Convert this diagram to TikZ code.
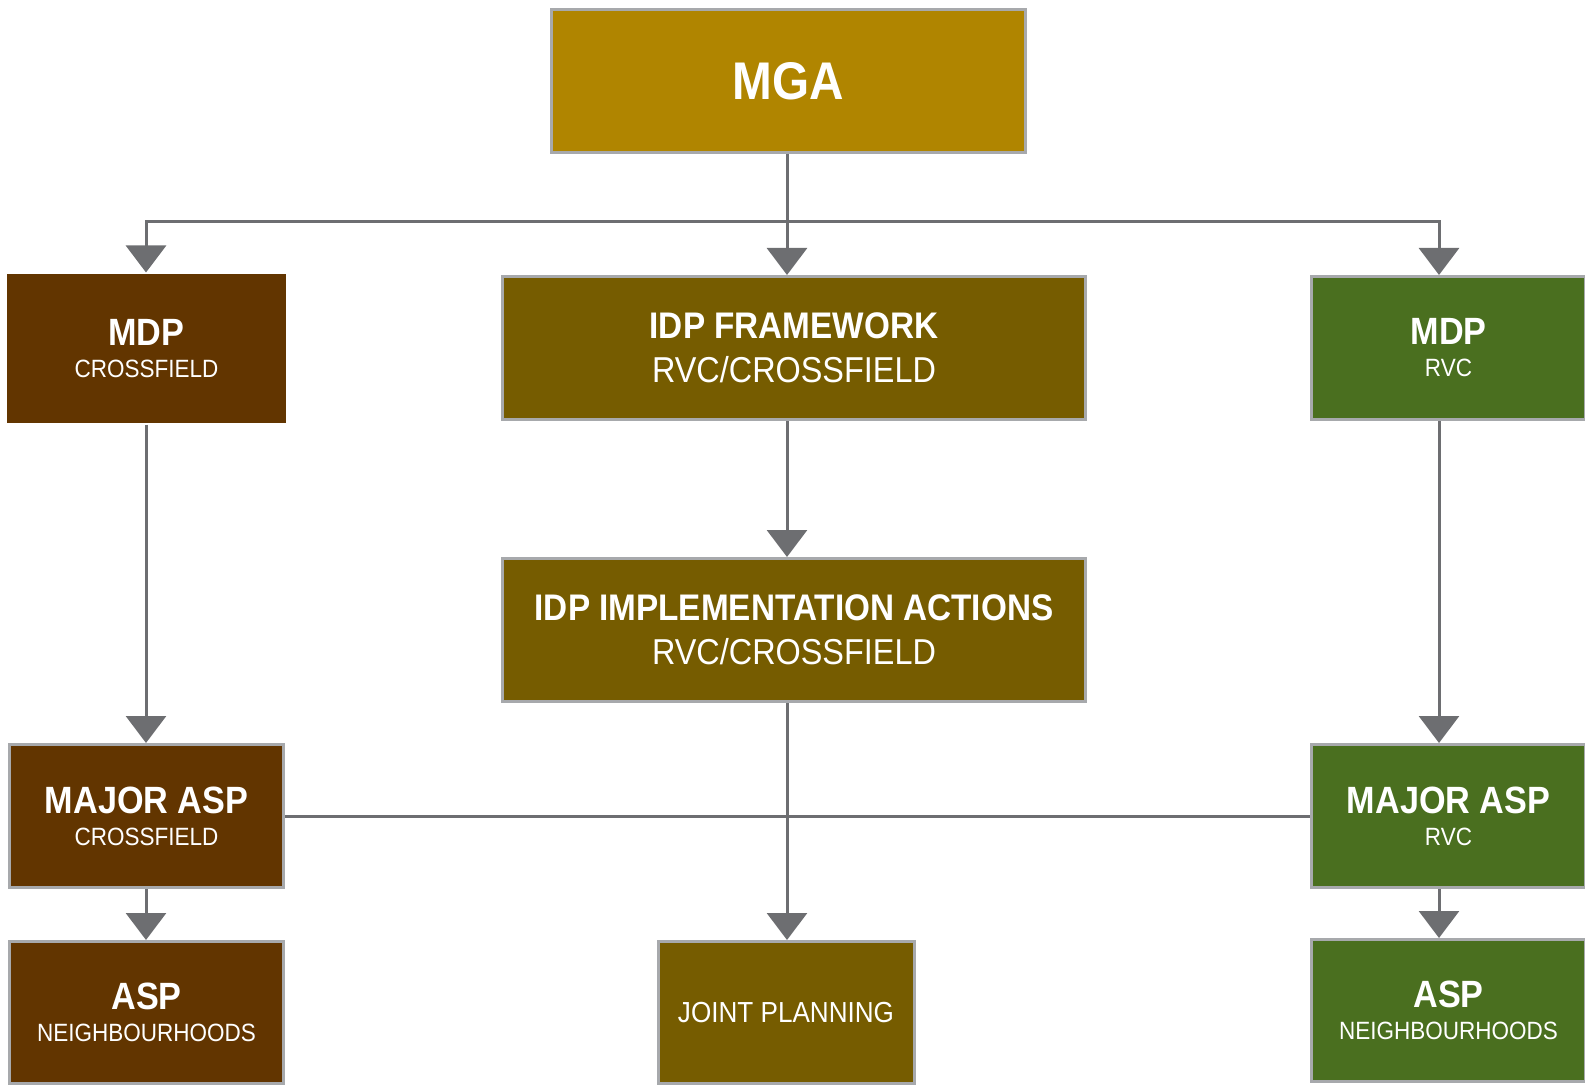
\documentclass[tikz,border=0pt]{standalone}
\usepackage{fontspec}
\setmainfont{Liberation Sans}[FakeStretch=0.9]
\usepackage{tikz}
\usepackage{xcolor}
\usetikzlibrary{positioning, arrows.meta}

\definecolor{mgagold}{HTML}{B08500}
\definecolor{cfbrown}{HTML}{623500}
\definecolor{idpolive}{HTML}{765C00}
\definecolor{rvcgreen}{HTML}{4A6F1F}
\definecolor{boxgray}{HTML}{A7A9AC}
\definecolor{linegray}{HTML}{6D6E71}

\newcommand{\boxttl}{\fontsize{38}{32}\selectfont\bfseries}
\newcommand{\boxbig}{\fontsize{36}{44}\selectfont}

\tikzset{
  box/.style={rectangle, draw=boxgray, line width=3pt, text=white, align=center, inner sep=0pt, minimum width=274pt, minimum height=143pt, font=\fontsize{25}{32}\selectfont},
  wide/.style={box, minimum width=583pt, font=\boxbig},
  conn/.style={draw=linegray, line width=3pt},
  arr/.style={conn, -{Triangle[width=40pt, length=27pt]}}
}

\begin{document}
\begin{tikzpicture}[x=1pt, y=-1pt]
\useasboundingbox (0, 0) rectangle (1585, 1086);
\node [box, fill=mgagold, minimum width=474pt, font=\fontsize{53}{60}\selectfont\bfseries] (mga) at (788.5, 81) {MGA};
\node [box, fill=cfbrown, draw=none, minimum width=279pt, minimum height=149pt] (mdpcf) at (146.5, 348.5) {{\boxttl MDP}\\CROSSFIELD};
\node [wide, fill=idpolive] (idpfw) at (794, 348) {{\fontsize{37}{44}\selectfont\bfseries IDP FRAMEWORK}\\RVC/CROSSFIELD};
\node [box, fill=rvcgreen] (mdprvc) at (1448.5, 348) {{\boxttl MDP}\\RVC};
\node [wide, fill=idpolive] (idpact) at (794, 630) {{\fontsize{37}{44}\selectfont\bfseries IDP IMPLEMENTATION ACTIONS}\\RVC/CROSSFIELD};
\node [box, fill=cfbrown] (majcf) at (146.5, 816) {{\boxttl MAJOR ASP}\\CROSSFIELD};
\node [box, fill=rvcgreen] (majrvc) at (1448.5, 816) {{\boxttl MAJOR ASP}\\RVC};
\node [box, fill=cfbrown, minimum height=142pt] (aspcf) at (146.5, 1012.5) {{\boxttl ASP}\\NEIGHBOURHOODS};
\node [box, fill=idpolive, minimum width=256pt, minimum height=142pt, font=\fontsize{29}{35}\selectfont] (joint) at (786, 1012.5) {JOINT PLANNING};
\node [box, fill=rvcgreen, minimum height=142pt] (asprvc) at (1448.5, 1010.5) {{\boxttl ASP}\\NEIGHBOURHOODS};
% top split
\coordinate (hub) at (787, 222);
\coordinate (hubl) at (146, 222);
\coordinate (hubr) at (1439, 222);
\draw [arr] (mga.south -| hub) -- (hub |- idpfw.north);
\draw [arr] (hub) -- (hubl) -- (hubl |- mdpcf.north);
\draw [arr] (hub) -- (hubr) -- (hubr |- mdprvc.north);
% columns
\draw [arr] (hubl |- mdpcf.south) -- (hubl |- majcf.north);
\draw [arr] (hubl |- majcf.south) -- (hubl |- aspcf.north);
\draw [arr] (hubr |- mdprvc.south) -- (hubr |- majrvc.north);
\draw [arr] (hubr |- majrvc.south) -- (hubr |- asprvc.north);
\draw [arr] (hub |- idpfw.south) -- (hub |- idpact.north);
\draw [arr] (hub |- idpact.south) -- (hub |- joint.north);
\draw [conn] (majcf.east) -- (majrvc.west);
\end{tikzpicture}
\end{document}
